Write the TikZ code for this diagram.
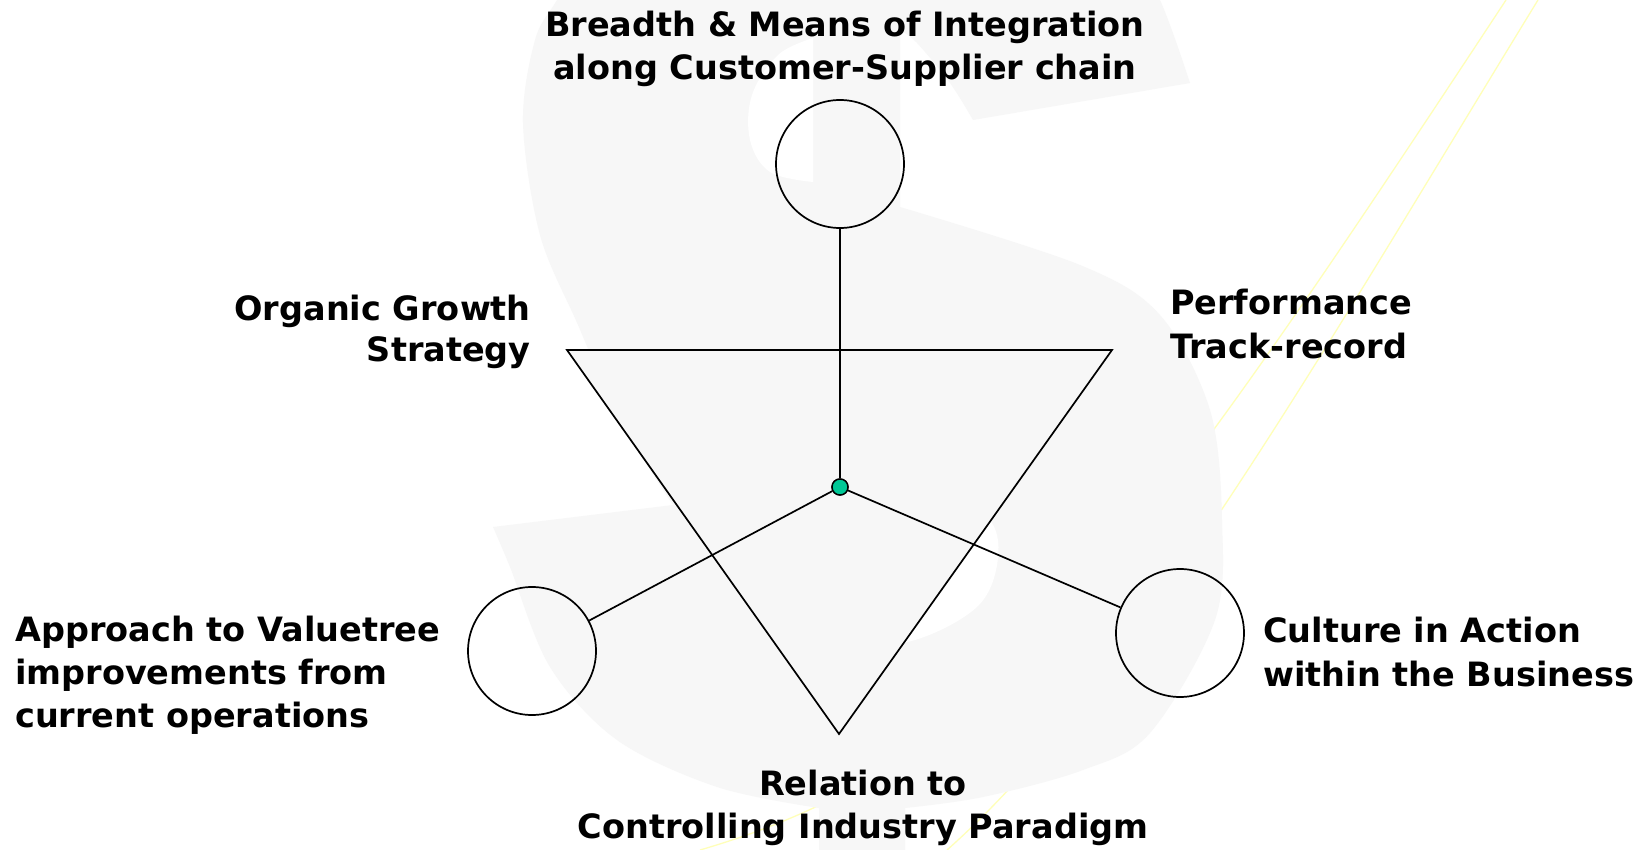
\documentclass[tikz,border=0pt]{standalone}
\usepackage{fontspec}
\setmainfont{DejaVu Sans}
\definecolor{sgray}{RGB}{247,247,247}
\definecolor{hubgreen}{RGB}{0,200,150}
\definecolor{swooshyellow}{RGB}{255,255,185}
\begin{document}
\begin{tikzpicture}[x=1pt,y=-1pt,
  lbl/.style={inner sep=0pt, font={\bfseries\fontsize{33.5}{43}\selectfont}},
  ring/.style={circle, draw=black, line width=1.7pt, minimum size=128pt, inner sep=0pt},
  wire/.style={draw=black, line width=1.7pt},
  hub/.style={circle, draw=black, fill=hubgreen, line width=1.4pt, minimum size=16pt, inner sep=0pt},
  swoosh/.style={draw=swooshyellow, line width=1.3pt}]

\useasboundingbox (0,0) rectangle (1644,850);
\fill[white] (0,0) rectangle (1644,850);

\begin{scope}
\clip (0,0) rectangle (1644,850);
% pale yellow swooshes behind the watermark
\coordinate (ya1) at (1506,0);
\coordinate (ya2) at (700,850);
\coordinate (yb1) at (1538,0);
\coordinate (yb2) at (947,850);
\draw[swoosh] (ya1) .. controls (1121,585) and (988,766) .. (ya2);
\draw[swoosh] (yb1) .. controls (1329,341) and (1134,684) .. (yb2);

% large dollar-sign watermark
\fill[sgray] plot[smooth, tension=0.55] coordinates {(673,505) (620,420) (578,325) (540,235) (523,123) (535,40) (557,0) (600,-70)}
  -- (1120,-70)
  -- plot[smooth, tension=0.55] coordinates {(1120,-70) (1160,0) (1190,83)}
  -- plot[smooth, tension=0.55] coordinates {(973,120) (950,83) (917,43) (900,30)}
  -- (900,207)
  -- plot[smooth, tension=0.55] coordinates {(900,207) (1080,265) (1160,315) (1210,410) (1222,520) (1215,620) (1150,733) (1083,770) (983,797) (905,808)}
  -- (905,870) -- (819,870)
  -- plot[smooth, tension=0.55] coordinates {(819,808) (717,787) (617,740) (550,667) (510,567) (493,527)}
  -- cycle;
% counters of the watermark
\fill[white] plot[smooth, tension=0.6] coordinates {(813,38) (778,55) (752,95) (750,140) (770,172) (813,182)} -- cycle;
\fill[white] plot[smooth cycle, tension=0.6] coordinates {(870,515) (940,500) (988,518) (998,558) (978,606) (915,640) (860,640) (840,580)};
\end{scope}

% inverted triangle
\coordinate (tl) at (567,350);
\coordinate (tr) at (1112,350);
\coordinate (tb) at (839,734);
\draw[wire, fill=sgray] (tl) -- (tr) -- (tb) -- cycle;

% circles and hub
\node[ring] (topc) at (840,164) {};
\node[ring] (leftc) at (532,651) {};
\node[ring] (rightc) at (1180,633) {};
\node[hub] (hub) at (840,487) {};

\draw[wire] (topc) -- (hub);
\draw[wire] (hub) -- (leftc);
\draw[wire] (hub) -- (rightc);
\node[hub] at (hub) {};

% labels
\node[lbl, anchor=base] (top1) at (845,37) {Breadth \& Means of Integration};
\node[lbl, anchor=base] (top2) at (845,80) {along Customer-Supplier chain};
\node[lbl, anchor=base east] (org1) at (531,320) {Organic Growth};
\node[lbl, anchor=base east] (org2) at (531,362) {Strategy};
\node[lbl, anchor=base west] (perf1) at (1170,315) {Performance};
\node[lbl, anchor=base west] (perf2) at (1170,358) {Track-record};
\node[lbl, anchor=base west] (app1) at (15,641) {Approach to Valuetree};
\node[lbl, anchor=base west] (app2) at (15,684) {improvements from};
\node[lbl, anchor=base west] (app3) at (15,727) {current operations};
\node[lbl, anchor=base west] (cul1) at (1263,642) {Culture in Action};
\node[lbl, anchor=base west] (cul2) at (1263,686) {within the Business};
\node[lbl, anchor=base] (rel1) at (863,795) {Relation to};
\node[lbl, anchor=base] (rel2) at (863,838) {Controlling Industry Paradigm};
\end{tikzpicture}
\end{document}
